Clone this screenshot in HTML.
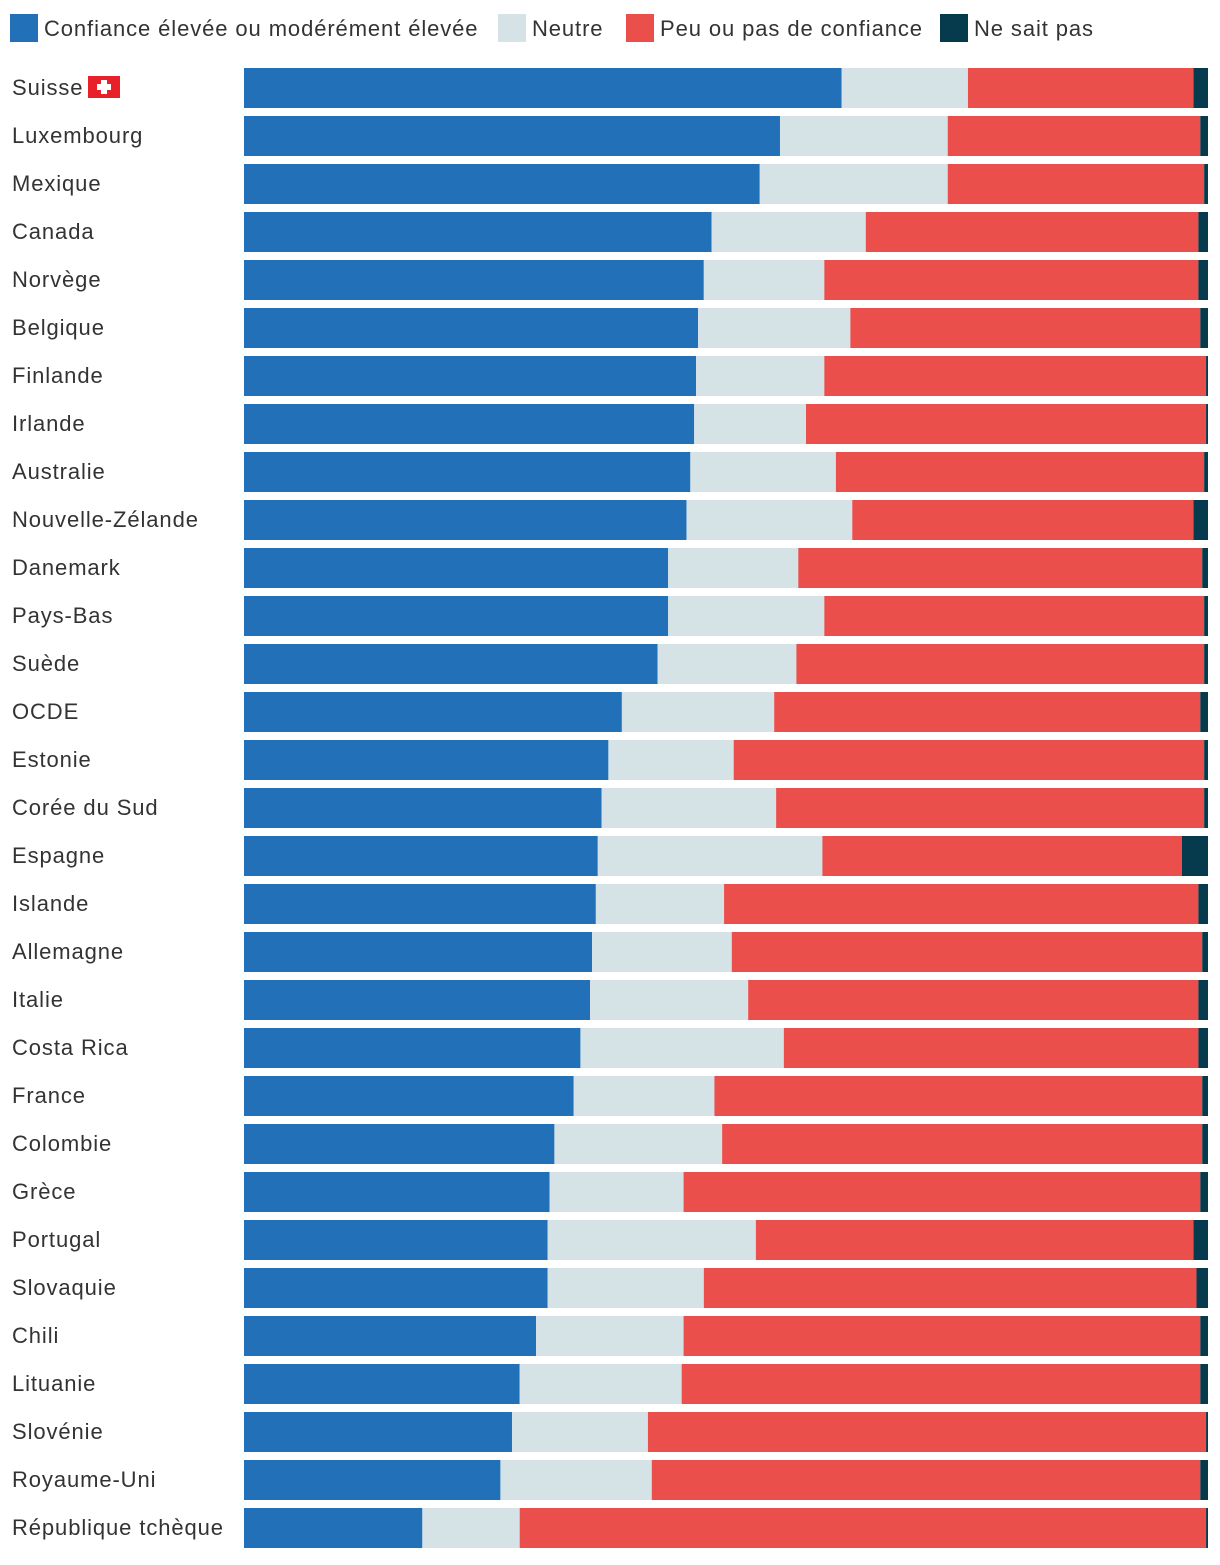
<!DOCTYPE html>
<html><head><meta charset="utf-8"><style>
body{margin:0;background:#fff;font-family:"Liberation Sans",sans-serif;}
svg text{font-family:"Liberation Sans",sans-serif;letter-spacing:0.9px;}
</style></head><body>
<svg id="chart" width="1220" height="1560" xmlns="http://www.w3.org/2000/svg">
<g>
<rect x="10" y="14" width="28" height="28" fill="#2271b8"/>
<text x="44" y="36" font-size="22" fill="#333">Confiance élevée ou modérément élevée</text>
<rect x="498" y="14" width="28" height="28" fill="#d5e2e6"/>
<text x="532" y="36" font-size="22" fill="#333">Neutre</text>
<rect x="626" y="14" width="28" height="28" fill="#ea4f4b"/>
<text x="660" y="36" font-size="22" fill="#333">Peu ou pas de confiance</text>
<rect x="940" y="14" width="28" height="28" fill="#063b4d"/>
<text x="974" y="36" font-size="22" fill="#333">Ne sait pas</text>
</g>
<g id="bars"></g>
</svg>
<script>
const countries=["Suisse","Luxembourg","Mexique","Canada","Norvège","Belgique","Finlande","Irlande","Australie","Nouvelle-Zélande","Danemark","Pays-Bas","Suède","OCDE","Estonie","Corée du Sud","Espagne","Islande","Allemagne","Italie","Costa Rica","France","Colombie","Grèce","Portugal","Slovaquie","Chili","Lituanie","Slovénie","Royaume-Uni","République tchèque"];
const confiance=[62.0,55.6,53.5,48.5,47.7,47.1,46.9,46.7,46.3,45.9,44.0,44.0,42.9,39.2,37.8,37.1,36.7,36.5,36.1,35.9,34.9,34.2,32.2,31.7,31.5,31.5,30.3,28.6,27.8,26.6,18.5];
const neutre=[13.1,17.4,19.5,16.0,12.5,15.8,13.3,11.6,15.1,17.2,13.5,16.2,14.4,15.8,13.0,18.1,23.3,13.3,14.5,16.4,21.1,14.6,17.4,13.9,21.6,16.2,15.3,16.8,14.1,15.7,10.1];
const peu=[23.4,26.2,26.6,34.5,38.8,36.3,39.6,41.5,38.2,35.4,41.9,39.4,42.3,44.2,48.8,44.4,37.3,49.2,48.8,46.7,43.0,50.6,49.8,53.6,45.4,51.1,53.6,53.8,57.9,56.9,71.2];
const nsp=[1.5,0.8,0.4,1.0,1.0,0.8,0.2,0.2,0.4,1.5,0.6,0.4,0.4,0.8,0.4,0.4,2.7,1.0,0.6,1.0,1.0,0.6,0.6,0.8,1.5,1.2,0.8,0.8,0.2,0.8,0.2];
const X0=244,W=964,Y0=68,STEP=48,H=40;
const colors=["#2271b8","#d5e2e6","#ea4f4b","#063b4d"];
const names=["confiance","neutre","peu","nsp"];
const ns="http://www.w3.org/2000/svg";
const g=document.getElementById("bars");
function x(v,total){return X0+v/total*W;}
function y(i){return Y0+i*STEP;}
countries.forEach((c,i)=>{
  const vals=[confiance[i],neutre[i],peu[i],nsp[i]];
  const total=vals.reduce((a,b)=>a+b,0);
  const t=document.createElementNS(ns,"text");
  
  
  t.setAttribute("x",12);t.setAttribute("y",y(i)+27);
  t.setAttribute("font-size","22");t.setAttribute("fill","#333");
  t.textContent=c;g.appendChild(t);
  let acc=0;
  vals.forEach((v,k)=>{
    const r=document.createElementNS(ns,"rect");
    
    
    r.setAttribute("x",x(acc,total));r.setAttribute("y",y(i));
    r.setAttribute("width",x(acc+v,total)-x(acc,total));r.setAttribute("height",H);
    r.setAttribute("fill",colors[k]);g.appendChild(r);acc+=v;
  });
});
const f=document.createElementNS(ns,"g");


f.innerHTML='<rect x="88" y="76" width="32" height="22" fill="#e8202a"/><rect x="101" y="80" width="6" height="14" fill="#fff"/><rect x="97" y="84" width="14" height="6" fill="#fff"/>';
g.appendChild(f);
</script>
</body></html>
